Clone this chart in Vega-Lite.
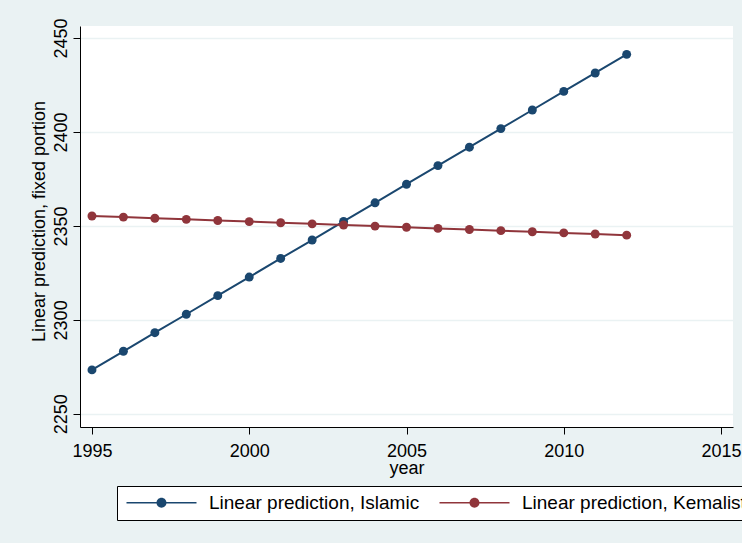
{
  "$schema": "https://vega.github.io/schema/vega-lite/v6.json",
  "width": 653,
  "height": 401,
  "autosize": {"type": "none"},
  "padding": {"left": 80, "top": 26, "right": 9, "bottom": 116},
  "background": "#EAF2F3",
  "config": {
    "view": {"fill": "white", "stroke": null},
    "font": "Liberation Sans"
  },
  "data": {
    "values": [
      {"year": 1995, "series": "Linear prediction, Islamic", "value": 2273.4},
      {"year": 1996, "series": "Linear prediction, Islamic", "value": 2283.3},
      {"year": 1997, "series": "Linear prediction, Islamic", "value": 2293.2},
      {"year": 1998, "series": "Linear prediction, Islamic", "value": 2303.0},
      {"year": 1999, "series": "Linear prediction, Islamic", "value": 2312.9},
      {"year": 2000, "series": "Linear prediction, Islamic", "value": 2322.8},
      {"year": 2001, "series": "Linear prediction, Islamic", "value": 2332.7},
      {"year": 2002, "series": "Linear prediction, Islamic", "value": 2342.5},
      {"year": 2003, "series": "Linear prediction, Islamic", "value": 2352.4},
      {"year": 2004, "series": "Linear prediction, Islamic", "value": 2362.3},
      {"year": 2005, "series": "Linear prediction, Islamic", "value": 2372.2},
      {"year": 2006, "series": "Linear prediction, Islamic", "value": 2382.1},
      {"year": 2007, "series": "Linear prediction, Islamic", "value": 2391.9},
      {"year": 2008, "series": "Linear prediction, Islamic", "value": 2401.8},
      {"year": 2009, "series": "Linear prediction, Islamic", "value": 2411.7},
      {"year": 2010, "series": "Linear prediction, Islamic", "value": 2421.6},
      {"year": 2011, "series": "Linear prediction, Islamic", "value": 2431.4},
      {"year": 2012, "series": "Linear prediction, Islamic", "value": 2441.3},
      {"year": 1995, "series": "Linear prediction, Kemalist", "value": 2355.3},
      {"year": 1996, "series": "Linear prediction, Kemalist", "value": 2354.7},
      {"year": 1997, "series": "Linear prediction, Kemalist", "value": 2354.1},
      {"year": 1998, "series": "Linear prediction, Kemalist", "value": 2353.5},
      {"year": 1999, "series": "Linear prediction, Kemalist", "value": 2352.9},
      {"year": 2000, "series": "Linear prediction, Kemalist", "value": 2352.3},
      {"year": 2001, "series": "Linear prediction, Kemalist", "value": 2351.7},
      {"year": 2002, "series": "Linear prediction, Kemalist", "value": 2351.1},
      {"year": 2003, "series": "Linear prediction, Kemalist", "value": 2350.5},
      {"year": 2004, "series": "Linear prediction, Kemalist", "value": 2349.9},
      {"year": 2005, "series": "Linear prediction, Kemalist", "value": 2349.3},
      {"year": 2006, "series": "Linear prediction, Kemalist", "value": 2348.7},
      {"year": 2007, "series": "Linear prediction, Kemalist", "value": 2348.1},
      {"year": 2008, "series": "Linear prediction, Kemalist", "value": 2347.5},
      {"year": 2009, "series": "Linear prediction, Kemalist", "value": 2346.9},
      {"year": 2010, "series": "Linear prediction, Kemalist", "value": 2346.3},
      {"year": 2011, "series": "Linear prediction, Kemalist", "value": 2345.7},
      {"year": 2012, "series": "Linear prediction, Kemalist", "value": 2345.1}
    ]
  },
  "encoding": {
    "x": {
      "field": "year",
      "type": "quantitative",
      "scale": {"domain": [1994.62, 2015.38], "nice": false, "zero": false},
      "axis": {
        "values": [1995, 2000, 2005, 2010, 2015],
        "format": "d",
        "title": "year",
        "titleFontSize": 18,
        "titleFontWeight": "normal",
        "titleColor": "black",
        "titleBaseline": "alphabetic",
        "titleY": 46,
        "labelFontSize": 18,
        "labelColor": "black",
        "labelBaseline": "alphabetic",
        "labelPadding": 22,
        "labelFlush": false,
        "labelOverlap": false,
        "domainColor": "black",
        "tickColor": "black",
        "tickSize": 7,
        "grid": false
      }
    },
    "y": {
      "field": "value",
      "type": "quantitative",
      "scale": {"domain": [2243, 2456.4], "nice": false, "zero": false},
      "axis": {
        "values": [2250, 2300, 2350, 2400, 2450],
        "format": "d",
        "title": "Linear prediction, fixed portion",
        "titleFontSize": 18,
        "titleFontWeight": "normal",
        "titleColor": "black",
        "titleBaseline": "alphabetic",
        "titleX": -36,
        "titleY": 195,
        "labelFontSize": 18,
        "labelColor": "black",
        "labelAngle": -90,
        "labelAlign": "center",
        "labelBaseline": "alphabetic",
        "labelPadding": 7,
        "labelFlush": false,
        "labelOverlap": false,
        "domainColor": "black",
        "tickColor": "black",
        "tickSize": 7,
        "grid": true,
        "gridColor": "#EAF2F3",
        "gridWidth": 1.5
      }
    },
    "color": {
      "field": "series",
      "type": "nominal",
      "scale": {
        "domain": ["Linear prediction, Islamic", "Linear prediction, Kemalist"],
        "range": ["#1a476f", "#90353b"]
      },
      "legend": {
        "orient": "none",
        "legendX": 37,
        "legendY": 460,
        "direction": "horizontal",
        "title": null,
        "labelFontSize": 19,
        "labelColor": "black",
        "labelLimit": 400,
        "strokeColor": "black",
        "fillColor": "white",
        "padding": 7,
        "cornerRadius": 0,
        "symbolType": "M-5,-0.11H5V0.11H-5Z M0.71,0 A0.71,0.71 0 1,1 -0.71,0 A0.71,0.71 0 1,1 0.71,0 Z",
        "symbolSize": 196,
        "symbolStrokeWidth": 0,
        "symbolOpacity": 1,
        "symbolOffset": 28,
        "labelOffset": 38,
        "columnPadding": 17,
        "encode": {
          "symbols": {
            "update": {
              "fill": {"scale": "color", "field": "value"},
              "opacity": {"value": 1}
            }
          }
        }
      }
    }
  },
  "layer": [
    {"mark": {"type": "line", "strokeWidth": 2}},
    {"mark": {"type": "point", "filled": true, "size": 80, "opacity": 1}}
  ]
}
